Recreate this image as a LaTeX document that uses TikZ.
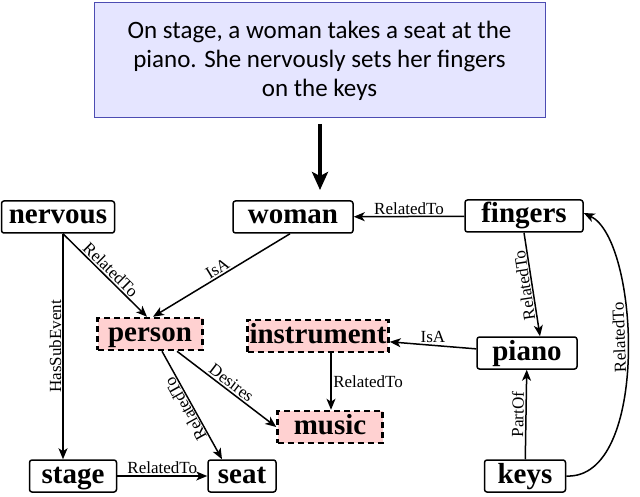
\documentclass[tikz,border=0pt]{standalone}
\usepackage{fontspec}
\setmainfont{Liberation Serif}
\newfontfamily\topfont{Carlito}
\usetikzlibrary{arrows.meta}
\begin{document}
\begin{tikzpicture}[x=1pt,y=1pt,
  cpt/.style={draw,line width=1.5pt,rounded corners=2.5pt,font=\bfseries\fontsize{29}{30}\selectfont,inner xsep=2pt,inner ysep=0pt,minimum height=32pt,text height=19pt,text depth=5pt},
  hl/.style={draw,dashed,dash pattern=on 6pt off 4pt,line width=2.5pt,fill=red!18,font=\bfseries\fontsize{29}{30}\selectfont,inner xsep=2pt,inner ysep=0pt,minimum height=32pt,text height=19pt,text depth=5pt},
  ed/.style={line width=1.5pt,-{Stealth[length=11pt,width=9pt,inset=3pt]}},
  lb/.style={font=\fontsize{17}{19}\selectfont,inner sep=1.5pt},
  up/.style={sloped,allow upside down,above}]
\useasboundingbox (0,-497) rectangle (640,0);
\node[draw=blue!40!gray,line width=1pt,fill=blue!10,minimum width=451pt,minimum height=115pt,align=center,font=\topfont\fontsize{25}{29}\selectfont] (txt) at (319.5,-60.5) {On stage, a woman takes a seat at the\\piano. She nervously sets her fingers\\on the keys};
\node[cpt,minimum width=113pt] (nervous) at (58,-217) {nervous};
\node[cpt,minimum width=120pt] (woman) at (293,-217) {woman};
\node[cpt,minimum width=118pt] (fingers) at (524,-216) {fingers};
\node[hl,minimum width=105pt] (person) at (150,-334) {person};
\node[hl,minimum width=130pt] (instrument) at (318,-336) {instrument};
\node[cpt,minimum width=100pt] (piano) at (527,-353) {piano};
\node[hl,minimum width=105pt] (music) at (330,-427) {music};
\node[cpt,minimum width=87pt] (stage) at (73,-476) {stage};
\node[cpt,minimum width=68pt] (seat) at (242,-476) {seat};
\node[cpt,minimum width=81pt] (keys) at (525,-476) {keys};
\coordinate (a1) at (320,-124);
\coordinate (a2) at (320,-190);
\draw[line width=4pt,-{Stealth[length=18pt,width=16pt,inset=4pt]}] (a1) -- (a2);
\draw[ed] (fingers) -- node[lb,above] {RelatedTo} (woman);
\draw[ed] ([xshift=5pt]nervous.south) -- node[lb,sloped,above] {RelatedTo} ([xshift=-3pt]person.north);
\draw[ed] ([xshift=-3pt]woman.south) -- node[lb,sloped,above] {IsA} ([xshift=3pt]person.north);
\draw[ed] ([xshift=5pt]nervous.south) -- ([xshift=-10pt]stage.north);
\path ([xshift=-10pt]stage.north) -- node[lb,up] {HasSubEvent} ([xshift=5pt]nervous.south);
\draw[ed] (stage) -- node[lb,above] {RelatedTo} (seat);
\draw[ed] ([xshift=12pt]person.south) -- ([xshift=-20pt]seat.north);
\path ([xshift=-20pt]seat.north) -- node[lb,up] {RelatedTo} ([xshift=12pt]person.south);
\draw[ed] ([xshift=27pt]person.south) -- node[lb,sloped,above] {Desires} (music.west);
\draw[ed] ([xshift=13pt]instrument.south) -- node[lb,right] {RelatedTo} ([xshift=1pt]music.north);
\draw[ed] (piano) -- node[lb,above] {IsA} (instrument);
\draw[ed] (fingers.south) -- ([xshift=13pt]piano.north);
\path ([xshift=13pt]piano.north) -- node[lb,up] {RelatedTo} (fingers.south);
\draw[ed] (keys) -- node[lb,up] {PartOf} (piano);
\draw[ed] (keys.east) .. controls (650,-480) and (640,-240) .. node[lb,up,pos=0.55] {RelatedTo} ([yshift=3pt]fingers.east);
\end{tikzpicture}
\end{document}
